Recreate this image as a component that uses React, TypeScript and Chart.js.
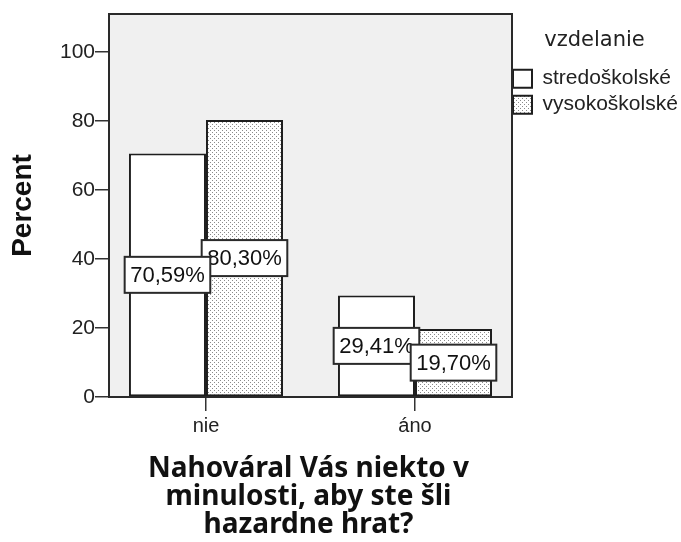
import React, { useEffect, useRef } from "react";
import { Chart, registerables } from "chart.js";

Chart.register(...registerables);

const categories = ["nie", "áno"];
const seriesNames = ["stredoškolské", "vysokoškolské"];
const stredoskolske = [70.59, 29.41];
const vysokoskolske = [80.3, 19.7];
const yTickValues = [0, 20, 40, 60, 80, 100];
const legendTitle = "vzdelanie";
const yTitle = "Percent";
const xTitleLines = ["Nahováral Vás niekto v", "minulosti, aby ste šli", "hazardne hrat?"];

const FRAME_EXTRA_RIGHT = 4;

function makeDots(): CanvasPattern | string {
  const c = document.createElement("canvas");
  c.width = 4;
  c.height = 4;
  const g = c.getContext("2d");
  if (!g) return "#ddd";
  g.fillStyle = "#ffffff";
  g.fillRect(0, 0, 4, 4);
  g.fillStyle = "#8a8a8a";
  g.fillRect(0, 0, 1, 1);
  g.fillRect(2, 2, 1, 1);
  return g.createPattern(c, "repeat") || "#ddd";
}

const fmt = (v: number) => v.toFixed(2).replace(".", ",") + "%";

const framePlugin = {
  id: "frame",
  beforeDatasetsDraw(chart: any) {
    const { ctx, chartArea: a } = chart;
    ctx.save();
    ctx.fillStyle = "#f0f0f0";
    ctx.fillRect(a.left, a.top, a.right + FRAME_EXTRA_RIGHT - a.left, a.bottom - a.top);
    ctx.restore();
  },
  afterDatasetsDraw(chart: any) {
    const { ctx, chartArea: a } = chart;
    ctx.save();
    ctx.strokeStyle = "#2a2a2a";
    ctx.lineWidth = 2;
    ctx.strokeRect(a.left, a.top, a.right + FRAME_EXTRA_RIGHT - a.left, a.bottom - a.top);
    // value labels
    const items: { x: number; y: number; text: string }[] = [];
    chart.data.datasets.forEach((ds: any, di: number) => {
      const meta = chart.getDatasetMeta(di);
      meta.data.forEach((el: any, i: number) => {
        const v = ds.data[i].y;
        items.push({ x: el.x, y: (el.y + el.base) / 2, text: fmt(v) });
      });
    });
    items.sort((p, q) => p.y - q.y);
    ctx.font = "22px 'Liberation Sans', Arial, sans-serif";
    ctx.textAlign = "center";
    ctx.textBaseline = "middle";
    items.forEach((it) => {
      const w = ctx.measureText(it.text).width + 11;
      const h = 36;
      ctx.fillStyle = "#ffffff";
      ctx.fillRect(it.x - w / 2, it.y - h / 2, w, h);
      ctx.strokeStyle = "#2a2a2a";
      ctx.lineWidth = 2;
      ctx.strokeRect(it.x - w / 2, it.y - h / 2, w, h);
      ctx.fillStyle = "#111";
      ctx.fillText(it.text, it.x, it.y + 1);
    });
    ctx.restore();
  },
};

export default function App() {
  const ref = useRef<HTMLCanvasElement | null>(null);
  useEffect(() => {
    document.body.style.margin = "0";
    const canvas = ref.current;
    if (!canvas) return;
    Chart.defaults.font.family = "'Liberation Sans', Arial, sans-serif";
    const dots = makeDots();
    const chart = new Chart(canvas, {
      type: "bar",
      data: {
        datasets: [
          {
            label: seriesNames[0],
            data: stredoskolske.map((y, i) => ({ x: i, y })),
            backgroundColor: "#ffffff",
            borderColor: "#1e1e1e",
            borderWidth: 2,
            borderSkipped: false,
          },
          {
            label: seriesNames[1],
            data: vysokoskolske.map((y, i) => ({ x: i, y })),
            backgroundColor: dots as any,
            borderColor: "#1e1e1e",
            borderWidth: 2,
            borderSkipped: false,
          },
        ],
      },
      options: {
        responsive: false,
        animation: false,
        devicePixelRatio: 1,
        layout: { padding: { top: 14, left: 0, right: 0, bottom: 0 } },
        datasets: { bar: { categoryPercentage: 0.737, barPercentage: 1 } },
        plugins: {
          tooltip: { enabled: false },
          legend: {
            position: "right",
            align: "start",
            maxWidth: 173,
            title: {
              display: true,
              text: legendTitle,
              color: "#222",
              font: { family: "'DejaVu Sans', sans-serif", size: 21 },
              padding: { top: 16, bottom: 8 },
            },
            labels: {
              boxWidth: 19,
              boxHeight: 18,
              padding: 5,
              color: "#222",
              font: { size: 21 },
            },
          },
        },
        scales: {
          x: {
            type: "linear",
            offset: false,
            min: -0.464,
            max: 1.445,
            afterBuildTicks: (axis: any) => {
              axis.ticks = categories.map((_, i) => ({ value: i }));
            },
            afterFit: (scale: any) => {
              scale.height = 145;
            },
            ticks: {
              callback: (v: any) => categories[v] ?? "",
              autoSkip: false,
              maxRotation: 0,
              padding: 3,
              color: "#222",
              font: { size: 20 },
            },
            grid: {
              offset: false,
              drawOnChartArea: false,
              drawTicks: true,
              tickLength: 14,
              color: "#333",
              lineWidth: 1.5,
            },
            border: { display: false },
            title: {
              display: true,
              text: xTitleLines,
              color: "#111",
              font: { family: "'Noto Sans', sans-serif", weight: "bold", size: 28, lineHeight: 1.0 },
              padding: { top: 0, bottom: 3 },
            },
          },
          y: {
            type: "linear",
            min: 0,
            max: 111,
            afterBuildTicks: (axis: any) => {
              axis.ticks = yTickValues.map((v) => ({ value: v }));
            },
            afterFit: (scale: any) => {
              scale.width = 109;
            },
            ticks: { padding: 0, color: "#222", font: { size: 21 } },
            grid: { drawOnChartArea: false, drawTicks: true, tickLength: 14, color: "#333", lineWidth: 1.5 },
            border: { display: false },
            title: {
              display: true,
              text: yTitle,
              color: "#111",
              font: { weight: "bold", size: 28 },
              padding: { top: 6, bottom: 0 },
            },
          },
        },
      },
      plugins: [framePlugin],
    } as any);
    return () => chart.destroy();
  }, []);
  return (
    <div style={{ width: 681, height: 542, position: "relative" }}>
      <canvas ref={ref} width={681} height={542} style={{ display: "block" }} />
    </div>
  );
}
